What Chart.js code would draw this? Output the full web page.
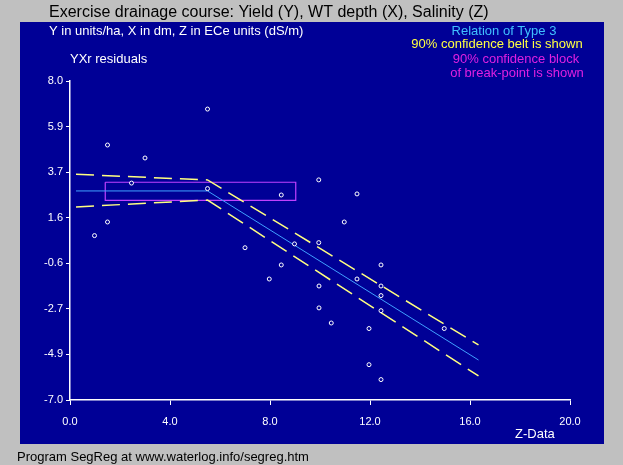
<!DOCTYPE html>
<html><head><meta charset="utf-8">
<script src="https://cdn.jsdelivr.net/npm/chart.js@4"></script>
<style>body{margin:0;background:#c0c0c0}#c{display:block}</style>
</head><body>
<div style="width:623px;height:465px"><canvas id="c" width="623" height="465"></canvas></div>
<script>
// residual points (Z, YXr)
const zData = [5.5, 1.5, 3.0, 2.46, 5.5, 8.45, 9.95, 1.5, 0.98, 7.0, 8.98, 9.95, 11.48, 10.97, 8.45, 12.44, 7.97, 11.48, 9.96, 12.44, 12.44, 12.44, 9.96, 10.45, 11.96, 14.97, 11.96, 12.44];
const yData = [6.68, 4.99, 4.38, 3.2, 2.94, 2.64, 3.35, 1.37, 0.73, 0.16, 0.34, 0.4, 2.69, 1.37, -0.65, -0.65, -1.31, -1.31, -1.64, -1.64, -2.09, -2.8, -2.67, -3.38, -3.64, -3.64, -5.34, -6.04];
// fitted segmented line and 90% belt
const lineZ = [0.24, 5.5, 16.34];
const lineY = [2.83, 2.83, -5.12];
const upperY = [3.61, 3.35, -4.41];
const lowerY = [2.08, 2.40, -5.87];
// break-point confidence block
const boxZ = [1.41, 9.03, 9.03, 1.41, 1.41];
const boxY = [3.24, 3.24, 2.39, 2.39, 3.24];
const xTicks = [0, 4, 8, 12, 16, 20];
const yTicks = [0, 1, 2, 3, 4, 5, 6, 7].map(k => -7 + k * 15 / 7);

const pts = (xs, ys) => xs.map((x, i) => ({x: x, y: ys[i]}));

const panel = {
  id: 'panel',
  beforeDraw(chart) {
    const c = chart.ctx;
    c.save();
    c.fillStyle = '#c0c0c0';
    c.fillRect(0, 0, 623, 465);
    c.fillStyle = '#000096';
    c.fillRect(20, 22, 584, 422);
    c.restore();
  },
  afterDraw(chart) {
    const c = chart.ctx;
    c.save();
    c.textBaseline = 'middle';
    c.font = '16px "Liberation Sans", Arial';
    c.fillStyle = '#000';
    c.fillText('Exercise drainage course: Yield (Y), WT depth (X), Salinity (Z)', 49, 13);
    c.font = '13px "Liberation Sans", Arial';
    c.fillText('Program SegReg at www.waterlog.info/segreg.htm', 17, 457);
    c.fillStyle = '#fff';
    c.fillText('Y in units/ha, X in dm, Z in ECe units (dS/m)', 49, 31);
    c.fillText('YXr residuals', 70, 59);
    c.fillText('Z-Data', 515, 434);
    c.textAlign = 'center';
    c.fillStyle = '#40c0ff';
    c.fillText('Relation of Type 3', 504, 31);
    c.fillStyle = '#ffff40';
    c.fillText('90% confidence belt is shown', 497, 44);
    c.fillStyle = '#e020e0';
    c.fillText('90% confidence block', 516, 59);
    c.fillText('of break-point is shown', 517, 73);
    c.restore();
  }
};

const belt = {borderColor: '#ffff80', borderWidth: 1.5, borderDash: [18, 8], pointRadius: 0, showLine: true, fill: false};

new Chart(document.getElementById('c'), {
  type: 'scatter',
  data: {
    datasets: [
      {data: pts(zData, yData), pointRadius: 2, pointBorderColor: '#fff', pointBackgroundColor: '#000096', pointBorderWidth: 1},
      {data: pts(lineZ, lineY), showLine: true, borderColor: '#40a0ff', borderWidth: 1, pointRadius: 0},
      Object.assign({data: pts(lineZ, upperY)}, belt),
      Object.assign({data: pts(lineZ, lowerY)}, belt),
      {data: pts(boxZ, boxY), showLine: true, borderColor: '#c040ff', borderWidth: 1.2, pointRadius: 0}
    ]
  },
  options: {
    responsive: false,
    animation: false,
    layout: {padding: {top: 81, right: 53, left: 0, bottom: 0}},
    plugins: {legend: {display: false}, tooltip: {enabled: false}},
    scales: {
      x: {
        min: 0, max: 20,
        afterFit: s => { s.height = 65; },
        afterBuildTicks: s => { s.ticks = xTicks.map(v => ({value: v})); },
        grid: {display: true, drawOnChartArea: false, color: '#fff', tickLength: 5},
        border: {color: '#fff', width: 1.5},
        ticks: {color: '#fff', padding: 10, font: {size: 11, family: '"Liberation Sans", Arial'}, callback: v => v.toFixed(1), maxRotation: 0}
      },
      y: {
        min: -7, max: 8,
        afterFit: s => { s.width = 70; },
        afterBuildTicks: s => { s.ticks = yTicks.map(v => ({value: v})); },
        grid: {display: true, drawOnChartArea: false, color: '#fff', tickLength: 4},
        border: {color: '#fff', width: 1.5},
        ticks: {color: '#fff', padding: 3, font: {size: 11, family: '"Liberation Sans", Arial'}, callback: v => v.toFixed(1)}
      }
    }
  },
  plugins: [panel]
});
</script>
</body></html>
